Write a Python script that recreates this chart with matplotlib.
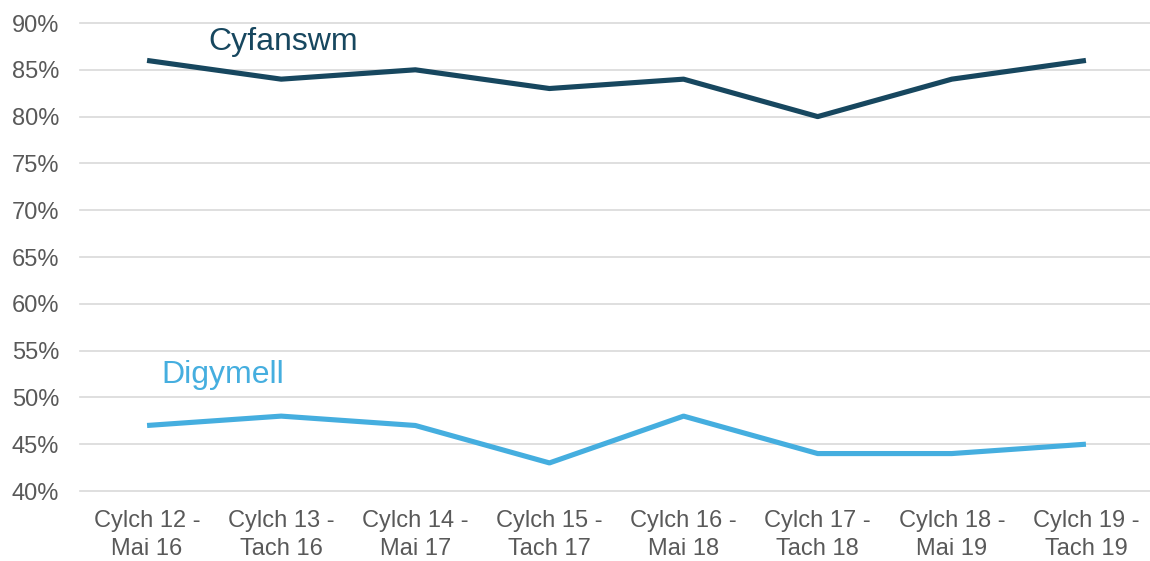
import matplotlib
matplotlib.use("Agg")
import matplotlib.pyplot as plt
from matplotlib.ticker import FuncFormatter

plt.rcParams['font.family'] = ['Liberation Sans', 'DejaVu Sans']

# data
categories = ["Cylch 12 -\nMai 16", "Cylch 13 -\nTach 16", "Cylch 14 -\nMai 17",
              "Cylch 15 -\nTach 17", "Cylch 16 -\nMai 18", "Cylch 17 -\nTach 18",
              "Cylch 18 -\nMai 19", "Cylch 19 -\nTach 19"]
cyfanswm = [86, 84, 85, 83, 84, 80, 84, 86]
digymell = [47, 48, 47, 43, 48, 44, 44, 45]

navy = "#17475F"
light = "#45AEDF"

fig = plt.figure(figsize=(11.5, 5.61), dpi=100)
ax = fig.add_axes([80 / 1150, 1 - 491 / 561, 1073 / 1150, 468 / 561])

x = list(range(len(categories)))
ax.plot(x, cyfanswm, color=navy, lw=3.7, solid_capstyle="butt")
ax.plot(x, digymell, color=light, lw=3.7, solid_capstyle="butt")

ax.set_xlim(-0.5, len(categories) - 0.5)
ax.set_ylim(40, 90)
ax.set_yticks(range(40, 91, 5))
ax.yaxis.set_major_formatter(FuncFormatter(lambda v, p: "%d%%" % v))
ax.set_xticks(x)
ax.set_xticklabels(categories, linespacing=1.35)

ax.grid(axis="y", color="#D9D9D9", lw=1.2)
for gl in ax.get_ygridlines():
    gl.set_clip_on(False)
ax.set_axisbelow(True)
for s in ax.spines.values():
    s.set_visible(False)
ax.tick_params(axis="both", length=0, labelsize=17, colors="#595959")
ax.tick_params(axis="y", pad=15)
ax.tick_params(axis="x", pad=14)

ax.text(0.46, 88.0, "Cyfanswm", color=navy, fontsize=23, ha="left", va="center")
ax.text(0.11, 52.4, "Digymell", color=light, fontsize=23, ha="left", va="center")

fig.savefig("out.png", dpi=100)
